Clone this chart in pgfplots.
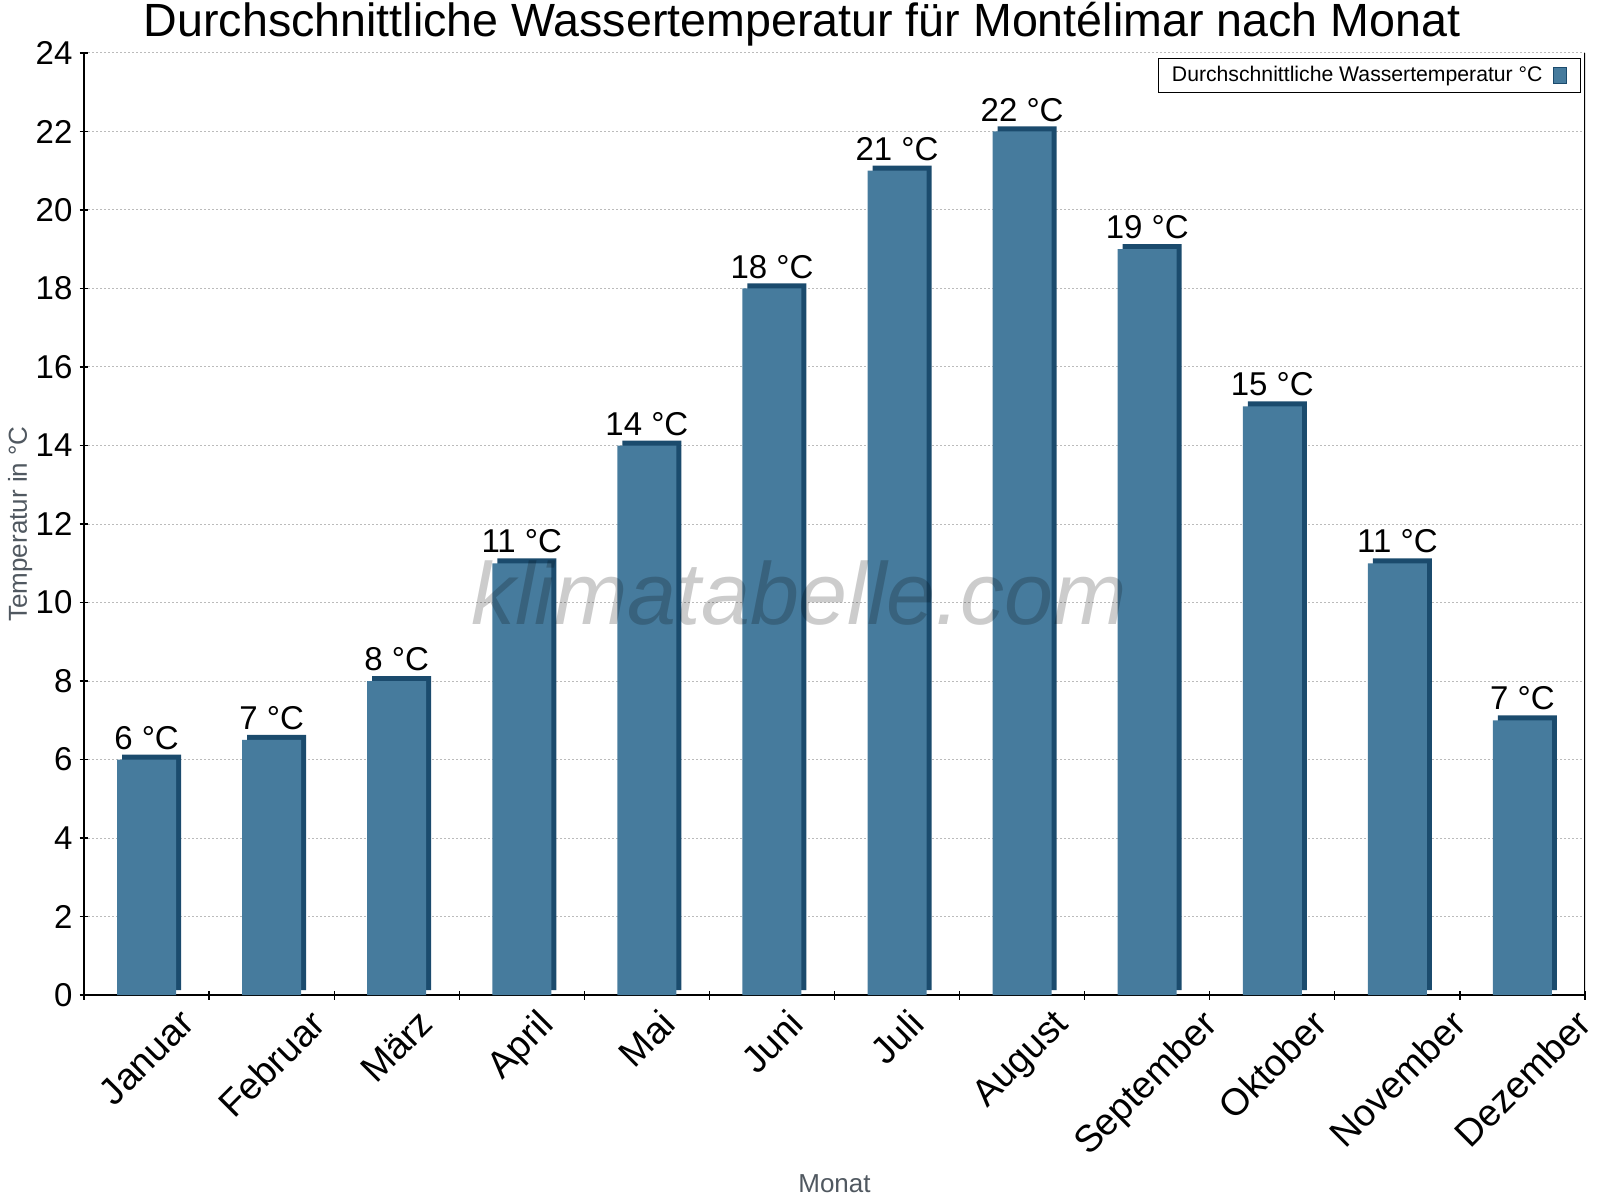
\documentclass[border=0pt]{standalone}
\usepackage{fontspec}
\setmainfont{Liberation Sans}
\usepackage{graphicx}
\usepackage{pgfplots}
\usepackage{pgfplotstable}
\pgfplotsset{compat=1.18}

\definecolor{barfront}{HTML}{467B9D}
\definecolor{barside}{HTML}{1B4B6D}
\definecolor{gridgray}{HTML}{BBBBBB}
\definecolor{labelgray}{HTML}{505860}

% Monat, Wassertemperatur, Beschriftung
\pgfplotstableread{
m t lbl
1 6 6
2 6.5 7
3 8 8
4 11 11
5 14 14
6 18 18
7 21 21
8 22 22
9 19 19
10 15 15
11 11 11
12 7 7
}\wasser

\newcommand{\rot}[1]{\rotatebox{45}{#1}}

\begin{document}
\begin{tikzpicture}
\useasboundingbox (0,0) rectangle (800pt,600pt);
\begin{axis}[
  at={(42pt,102.5pt)}, anchor=south west,
  scale only axis, width=750.5pt, height=471pt,
  xmin=0.5, xmax=12.5, ymin=0, ymax=24,
  axis x line*=bottom, axis y line*=left,
  axis line style={line width=0.6pt},
  xtick={1,...,12},
  xticklabels={\rot{Januar},\rot{Februar},\rot{März},\rot{April},\rot{Mai},\rot{Juni},\rot{Juli},\rot{August},\rot{September},\rot{Oktober},\rot{November},\rot{Dezember}},
  minor xtick={0.5,1.5,...,12.5},
  major x tick style={draw=none},
  ytick={0,2,...,24},
  ymajorgrids,
  grid style={gridgray, line width=0.5pt, dash pattern=on 1pt off 1pt},
  tick align=center, major tick length=4.5pt, minor tick length=4.5pt,
  tick style={black, line width=0.6pt},
  /pgf/number format/assume math mode=true,
  yticklabel style={font=\fontsize{16.5}{18}\selectfont},
  xticklabel style={font=\fontsize{18.8}{21}\selectfont, anchor=north, yshift=-0.5pt},
  ylabel={Temperatur in °C},
  ylabel style={font=\fontsize{13}{15}\selectfont, text=labelgray, at={(axis description cs:-0.0426,0.5)}, anchor=center},
  xlabel={Monat},
  xlabel style={font=\fontsize{13}{15}\selectfont, text=labelgray, at={(axis description cs:0.5,-0.2006)}, anchor=center},
  legend style={at={(1,1)}, anchor=north east, xshift=-2pt, yshift=-2.5pt,
    draw=black, line width=0.5pt, font=\fontsize{10.6}{12}\selectfont,
    inner xsep=4.5pt, inner ysep=2pt},
  legend plot pos=right,
  legend image code/.code={%
    \path (0pt,0pt) (12.5pt,0pt);
    \draw[fill=barfront, draw=barside, line width=0.5pt] (3.5pt,-4pt) rectangle (10pt,4pt);},
]
\addplot[ybar, bar width=29.5pt, bar shift=0pt, fill=barside, draw=none,
  xshift=2.5pt, yshift=2.5pt, forget plot] table[x=m, y=t] {\wasser};
\addplot[ybar, bar width=29.5pt, bar shift=0pt, fill=barfront, draw=none,
  point meta=explicit symbolic,
  nodes near coords={\pgfplotspointmeta\ °C},
  every node near coord/.append style={font=\fontsize{16.5}{18}\selectfont, text=black, yshift=1.5pt}]
  table[x=m, y=t, meta=lbl] {\wasser};
\legend{Durchschnittliche Wassertemperatur °C}
\draw[line width=0.6pt] (rel axis cs:1,0) -- (rel axis cs:1,1);
\end{axis}
\node[anchor=base, font=\fontsize{23.3}{26}\selectfont] at (401pt,581.6pt)
  {Durchschnittliche Wassertemperatur für Montélimar nach Monat};
\node[anchor=base, font=\fontsize{44}{50}\selectfont\itshape, text=black, opacity=0.2]
  at (399.5pt,287.7pt) {klimatabelle.com};
\end{tikzpicture}
\end{document}
